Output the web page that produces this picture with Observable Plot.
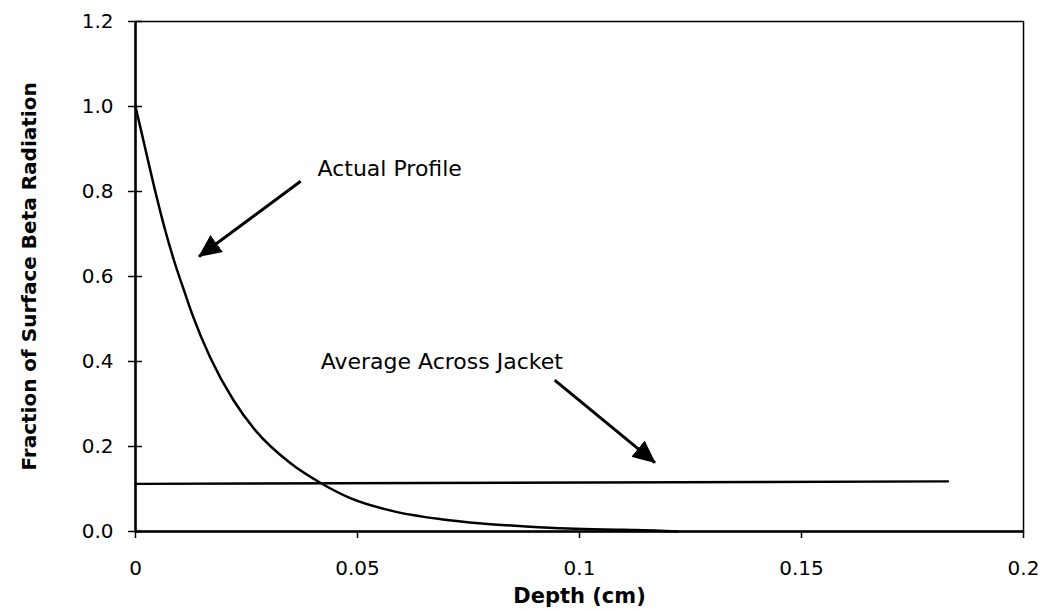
<!DOCTYPE html>
<html>
<head>
<meta charset="utf-8">
<script src="https://cdn.jsdelivr.net/npm/d3@7"></script>
<script src="https://cdn.jsdelivr.net/npm/@observablehq/plot@0.6"></script>
<style>
  html, body { margin: 0; padding: 0; background: #fff; }
</style>
</head>
<body>
<div id="chart"></div>
<script>
// Actual profile (depth in cm, fraction of surface beta radiation)
const profileDepth    = [0, 0.002, 0.004, 0.0064, 0.0086, 0.011, 0.013, 0.0168, 0.022, 0.027, 0.035, 0.0419, 0.0485, 0.058, 0.0688, 0.078, 0.088, 0.0974, 0.11, 0.118, 0.122];
const profileFraction = [1.0, 0.91, 0.82, 0.72, 0.64, 0.565, 0.505, 0.41, 0.31, 0.238, 0.16, 0.113, 0.078, 0.048, 0.029, 0.019, 0.012, 0.007, 0.004, 0.002, 0.0];

// Average across jacket
const avgDepth    = [0, 0.183];
const avgFraction = [0.112, 0.118];

// Ticks
const xTicks = [0, 0.05, 0.1, 0.15, 0.2];
const xTickLabels = ["0", "0.05", "0.1", "0.15", "0.2"];
const yTicks = [0, 0.2, 0.4, 0.6, 0.8, 1.0, 1.2];

// Annotations
const noteText  = ["Actual Profile", "Average Across Jacket"];
const noteDepth = [0.041, 0.0417];
const noteFrac  = [0.854, 0.40];
const arrowFromDepth = [0.0372, 0.0944];
const arrowFromFrac  = [0.824, 0.356];
const arrowToDepth   = [0.0143, 0.117];
const arrowToFrac    = [0.647, 0.162];

const profile = profileDepth.map((d, i) => ({depth: d, fraction: profileFraction[i]}));
const average = avgDepth.map((d, i) => ({depth: d, fraction: avgFraction[i]}));
const notes = noteText.map((t, i) => ({text: t, depth: noteDepth[i], fraction: noteFrac[i]}));
const arrows = arrowFromDepth.map((d, i) => ({x1: d, y1: arrowFromFrac[i], x2: arrowToDepth[i], y2: arrowToFrac[i]}));

const chart = Plot.plot({
  width: 1050,
  height: 609,
  marginLeft: 135,
  marginRight: 27,
  marginTop: 21,
  marginBottom: 78,
  style: {fontFamily: "'DejaVu Sans', sans-serif", fontSize: "20px", color: "#000", background: "#fff"},
  x: {domain: [0, 0.2]},
  y: {domain: [0, 1.2]},
  marks: [
    Plot.frame({stroke: "#000", strokeWidth: 1.5}),
    Plot.axisX({ticks: xTicks, tickSize: 7, tickPadding: 22, tickFormat: d => xTickLabels[xTicks.indexOf(d)], label: null, strokeWidth: 1.5, fontSize: 20}),
    Plot.axisY({ticks: yTicks, tickSize: 14, dx: 7, tickPadding: 15, tickFormat: d3.format(".1f"), label: null, strokeWidth: 1.5, fontSize: 20}),
    Plot.ruleX([0], {stroke: "#000", strokeWidth: 2.5}),
    Plot.ruleY([0], {stroke: "#000", strokeWidth: 2.5}),
    Plot.text(["Depth (cm)"], {frameAnchor: "bottom", dy: 71, lineAnchor: "bottom", textAnchor: "middle", fontWeight: "bold", fontSize: 21, letterSpacing: 0.5}),
    Plot.text(["Fraction of Surface Beta Radiation"], {frameAnchor: "left", dx: -106, rotate: -90, textAnchor: "middle", lineAnchor: "middle", fontWeight: "bold", fontSize: 20}),
    Plot.line(average, {x: "depth", y: "fraction", stroke: "#000", strokeWidth: 2.4}),
    Plot.line(profile, {x: "depth", y: "fraction", stroke: "#000", strokeWidth: 2.5, curve: "monotone-x"}),
    Plot.link(arrows, {x1: "x1", y1: "y1", x2: "x2", y2: "y2", stroke: "#000", strokeWidth: 3}),
    Plot.text(notes, {x: "depth", y: "fraction", text: "text", textAnchor: "start", fontSize: 22, letterSpacing: 1})
  ]
});

document.getElementById("chart").appendChild(chart);

// filled arrowheads for the annotation links
const svg = d3.select(chart);
const defs = svg.insert("defs", ":first-child");
defs.append("marker")
  .attr("id", "ahead")
  .attr("viewBox", "0 -11 23 22")
  .attr("markerUnits", "userSpaceOnUse")
  .attr("markerWidth", 23)
  .attr("markerHeight", 22)
  .attr("refX", 22)
  .attr("refY", 0)
  .attr("orient", "auto")
  .append("path")
  .attr("d", "M0,-10.5L23,0L0,10.5Z")
  .attr("fill", "#000");
svg.selectAll('g[aria-label="link"] path').attr("marker-end", "url(#ahead)");
</script>
</body>
</html>
